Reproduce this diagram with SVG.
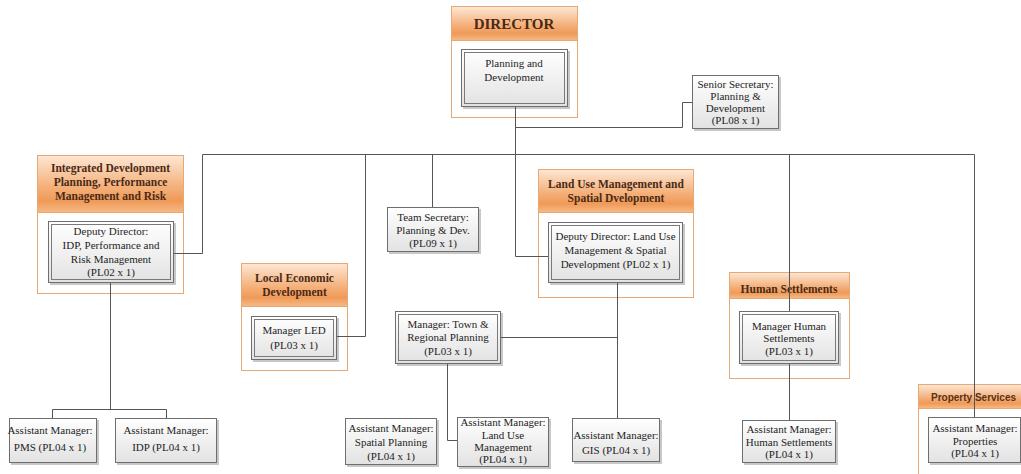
<svg xmlns="http://www.w3.org/2000/svg" width="1021" height="474" viewBox="0 0 1021 474" font-family="'Liberation Serif', 'DejaVu Serif', serif">
<defs>
<linearGradient id="hdr" x1="0" y1="0" x2="0" y2="1">
<stop offset="0" stop-color="#fde6d3"/>
<stop offset="0.55" stop-color="#f4b07a"/>
<stop offset="0.8" stop-color="#ef9a58"/>
<stop offset="1" stop-color="#f6b884"/>
</linearGradient>
<linearGradient id="box" x1="0" y1="0" x2="0" y2="1">
<stop offset="0" stop-color="#ffffff"/>
<stop offset="1" stop-color="#e2e2e2"/>
</linearGradient>
<style>
.grp{fill:#ffffff;stroke:#e6a874;stroke-width:1}
.hdr{fill:url(#hdr);stroke:none}
.hline{stroke:#e6a874;stroke-width:1}
.bx{fill:url(#box);stroke:#6e6e6e;stroke-width:1}
.bxi{fill:none;stroke:#7a7a7a;stroke-width:1}
.sh{fill:#c8c8c8}
.t{font-size:11px;fill:#1e1e1e;text-anchor:middle}
.h{font-size:11.5px;font-weight:bold;fill:#4a2a16;text-anchor:middle}
.ps{font-size:10px;font-weight:bold;fill:#5a3218}
.c{fill:none;stroke:#555555;stroke-width:1}
</style>
</defs>
<rect width="1021" height="474" fill="#ffffff"/>

<g id="director">
<rect class="grp" x="451.5" y="6.5" width="126" height="111"/>
<rect class="hdr" x="452" y="7" width="125" height="33"/>
<line class="hline" x1="452" y1="40.5" x2="577" y2="40.5"/>
<text class="h" x="514" y="29" style="font-size:15px">DIRECTOR</text>
<rect class="sh" x="463" y="51" width="107" height="58"/>
<rect class="bx" x="461.5" y="49.5" width="106" height="57"/>
<rect class="bxi" x="464.5" y="52.5" width="100" height="51"/>
<text class="t" x="514" y="67">Planning and</text>
<text class="t" x="514" y="81">Development</text>
</g>

<g id="senior-secretary">
<rect class="sh" x="694" y="77" width="87" height="54"/>
<rect class="bx" x="692.5" y="75.5" width="86" height="53"/>
<text class="t" x="735.5" y="88">Senior Secretary:</text>
<text class="t" x="735.5" y="100">Planning &amp;</text>
<text class="t" x="735.5" y="112">Development</text>
<text class="t" x="735.5" y="124">(PL08 x 1)</text>
</g>

<g id="idp">
<rect class="grp" x="37.5" y="155.5" width="146" height="138"/>
<rect class="hdr" x="38" y="156" width="145" height="56"/>
<line class="hline" x1="38" y1="212.5" x2="183" y2="212.5"/>
<text class="h" x="110.5" y="172">Integrated Development</text>
<text class="h" x="110.5" y="186">Planning, Performance</text>
<text class="h" x="110.5" y="200">Management and Risk</text>
<rect class="sh" x="50" y="223" width="126" height="62"/>
<rect class="bx" x="48.5" y="221.5" width="125" height="61"/>
<rect class="bxi" x="51.5" y="224.5" width="119" height="55"/>
<text class="t" x="111" y="235">Deputy Director:</text>
<text class="t" x="111" y="249">IDP, Performance and</text>
<text class="t" x="111" y="263">Risk Management</text>
<text class="t" x="111" y="276">(PL02 x 1)</text>
</g>

<g id="team-secretary">
<rect class="sh" x="389" y="209" width="92" height="45"/>
<rect class="bx" x="387.5" y="207.5" width="91" height="44"/>
<text class="t" x="433" y="221">Team Secretary:</text>
<text class="t" x="433" y="234">Planning &amp; Dev.</text>
<text class="t" x="433" y="247">(PL09 x 1)</text>
</g>

<g id="lum">
<rect class="grp" x="538.5" y="169.5" width="155" height="128"/>
<rect class="hdr" x="539" y="170" width="154" height="42"/>
<line class="hline" x1="539" y1="212.5" x2="693" y2="212.5"/>
<text class="h" x="616" y="188">Land Use Management and</text>
<text class="h" x="616" y="202">Spatial Dvelopment</text>
<rect class="sh" x="550" y="224" width="135" height="61"/>
<rect class="bx" x="548.5" y="222.5" width="134" height="60"/>
<rect class="bxi" x="551.5" y="225.5" width="128" height="54"/>
<text class="t" x="615.5" y="240">Deputy Director: Land Use</text>
<text class="t" x="615.5" y="254">Management &amp; Spatial</text>
<text class="t" x="615.5" y="268">Development (PL02 x 1)</text>
</g>

<g id="led">
<rect class="grp" x="241.5" y="263.5" width="106" height="107"/>
<rect class="hdr" x="242" y="264" width="105" height="42"/>
<line class="hline" x1="242" y1="306.5" x2="347" y2="306.5"/>
<text class="h" x="294.5" y="282">Local Economic</text>
<text class="h" x="294.5" y="296">Development</text>
<rect class="sh" x="253" y="318" width="86" height="44"/>
<rect class="bx" x="251.5" y="316.5" width="85" height="43"/>
<rect class="bxi" x="254.5" y="319.5" width="79" height="37"/>
<text class="t" x="294" y="334">Manager LED</text>
<text class="t" x="294" y="349">(PL03 x 1)</text>
</g>

<g id="town-planning">
<rect class="sh" x="397" y="313" width="106" height="53"/>
<rect class="bx" x="395.5" y="311.5" width="105" height="52"/>
<rect class="bxi" x="398.5" y="314.5" width="99" height="46"/>
<text class="t" x="448" y="328">Manager: Town &amp;</text>
<text class="t" x="448" y="341">Regional Planning</text>
<text class="t" x="448" y="355">(PL03 x 1)</text>
</g>

<g id="human-settlements">
<rect class="grp" x="729.5" y="272.5" width="120" height="106"/>
<rect class="hdr" x="730" y="273" width="119" height="25"/>
<line class="hline" x1="730" y1="298.5" x2="849" y2="298.5"/>
<text class="h" x="789" y="293">Human Settlements</text>
<rect class="sh" x="741" y="313" width="100" height="53"/>
<rect class="bx" x="739.5" y="311.5" width="99" height="52"/>
<rect class="bxi" x="742.5" y="314.5" width="93" height="46"/>
<text class="t" x="789" y="330">Manager Human</text>
<text class="t" x="789" y="342">Settlements</text>
<text class="t" x="789" y="355">(PL03 x 1)</text>
</g>

<g id="property-services">
<rect class="grp" x="918.5" y="384.5" width="110" height="100"/>
<rect class="hdr" x="919" y="385" width="110" height="23"/>
<line class="hline" x1="919" y1="408.5" x2="1021" y2="408.5"/>
<text class="ps" x="931" y="401" font-family="'Liberation Sans', 'DejaVu Sans', sans-serif">Property Services</text>
<rect class="sh" x="930" y="419" width="94" height="46"/>
<rect class="bx" x="928.5" y="417.5" width="92" height="45"/>
<text class="t" x="975" y="432">Assistant Manager:</text>
<text class="t" x="975" y="445">Properties</text>
<text class="t" x="975" y="457">(PL04 x 1)</text>
</g>

<g id="am-pms">
<rect class="sh" x="11" y="420" width="88" height="45"/>
<rect class="bx" x="9.5" y="418.5" width="87" height="44"/>
<text class="t" x="50" y="434">Assistant Manager:</text>
<text class="t" x="50" y="451">PMS (PL04 x 1)</text>
</g>

<g id="am-idp">
<rect class="sh" x="117" y="420" width="102" height="45"/>
<rect class="bx" x="115.5" y="418.5" width="101" height="44"/>
<text class="t" x="166" y="434">Assistant Manager:</text>
<text class="t" x="166" y="451">IDP (PL04 x 1)</text>
</g>

<g id="am-spatial">
<rect class="sh" x="347" y="420" width="92" height="47"/>
<rect class="bx" x="345.5" y="418.5" width="91" height="46"/>
<text class="t" x="391" y="432">Assistant Manager:</text>
<text class="t" x="391" y="446">Spatial Planning</text>
<text class="t" x="391" y="460">(PL04 x 1)</text>
</g>

<g id="am-landuse">
<rect class="sh" x="459" y="419" width="92" height="50"/>
<rect class="bx" x="457.5" y="417.5" width="91" height="49"/>
<text class="t" x="503" y="426">Assistant Manager:</text>
<text class="t" x="503" y="439">Land Use</text>
<text class="t" x="503" y="451">Management</text>
<text class="t" x="503" y="463">(PL04 x 1)</text>
</g>

<g id="am-gis">
<rect class="sh" x="574" y="420" width="88" height="44"/>
<rect class="bx" x="572.5" y="418.5" width="87" height="43"/>
<text class="t" x="616" y="439">Assistant Manager:</text>
<text class="t" x="616" y="454">GIS (PL04 x 1)</text>
</g>

<g id="am-hs">
<rect class="sh" x="744" y="422" width="94" height="43"/>
<rect class="bx" x="742.5" y="420.5" width="93" height="42"/>
<text class="t" x="789" y="433">Assistant Manager:</text>
<text class="t" x="789" y="446">Human Settlements</text>
<text class="t" x="789" y="458">(PL04 x 1)</text>
</g>

<g id="connectors">
<path class="c" d="M515.5 107 V256.5 H548"/>
<path class="c" d="M515.5 127.5 H682.5 V102.5 H692"/>
<path class="c" d="M202.5 154.5 H974.5"/>
<path class="c" d="M202.5 154.5 V253.5 H174"/>
<path class="c" d="M365.5 154.5 V336.5 H337"/>
<path class="c" d="M432.5 154.5 V207"/>
<path class="c" d="M789.5 154.5 V311"/>
<path class="c" d="M789.5 364 V420"/>
<path class="c" d="M974.5 154.5 V417"/>
<path class="c" d="M110.5 283 V409.5"/>
<path class="c" d="M52.5 418 V409.5 H166.5 V418"/>
<path class="c" d="M617.5 283 V418"/>
<path class="c" d="M501 337.5 H617.5"/>
<path class="c" d="M447.5 364 V440.5 H457"/>
</g>
</svg>
